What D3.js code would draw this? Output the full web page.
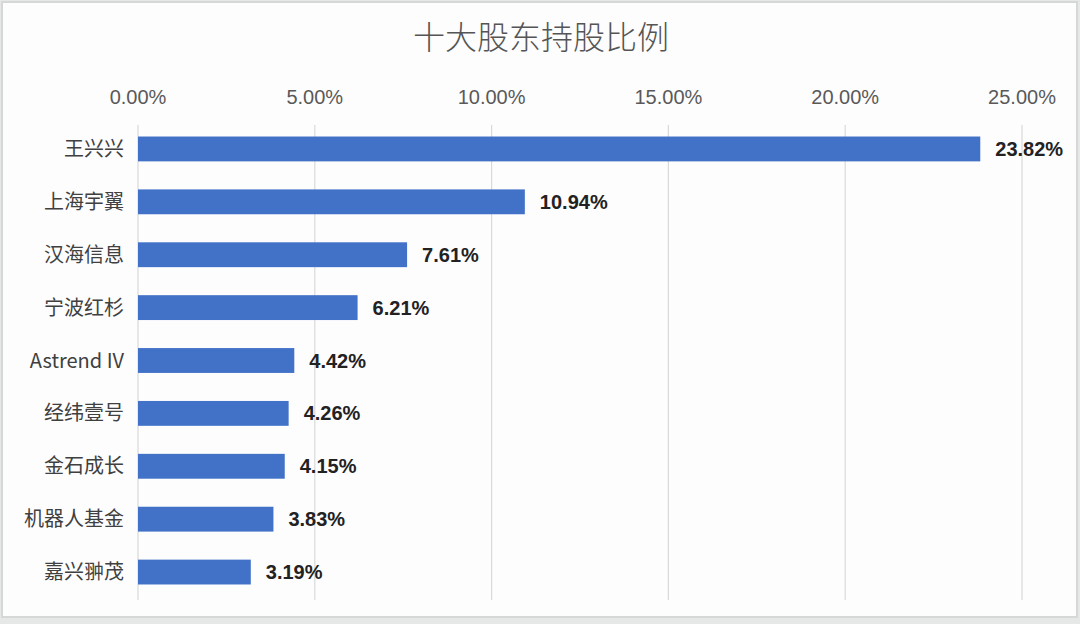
<!DOCTYPE html>
<html>
<head>
<meta charset="utf-8">
<script src="https://cdn.jsdelivr.net/npm/d3@7"></script>
<style>
  html, body { margin: 0; padding: 0; background: #e6e8e8; }
  #chart { width: 1080px; height: 624px; }
</style>
</head>
<body>
<div id="chart"></div>
<script>
// top ten shareholders, share of holding (%)
const holders = ["王兴兴", "上海宇翼", "汉海信息", "宁波红杉", "Astrend IV", "经纬壹号", "金石成长", "机器人基金", "嘉兴翀茂"];
const shares = [23.82, 10.94, 7.61, 6.21, 4.42, 4.26, 4.15, 3.83, 3.19];
const xTicks = [0, 5, 10, 15, 20, 25];

const W = 1080, H = 624;
const svg = d3.select("#chart").append("svg").attr("width", W).attr("height", H);

// card with thin grey frame
svg.append("rect").attr("x", 2).attr("y", 2).attr("width", W - 5).attr("height", H - 9)
  .attr("fill", "#fdfdfe").attr("stroke", "#d6d8d8").attr("stroke-width", 2);

svg.append("text").attr("x", 541).attr("y", 49).attr("text-anchor", "middle")
  .attr("font-family", "'Noto Sans CJK SC', sans-serif").attr("font-weight", 300)
  .attr("font-size", 32).attr("fill", "#555").text("十大股东持股比例");

const x = d3.scaleLinear().domain([0, 25]).range([138, 1022]);
const y = d3.scaleBand().domain(holders).range([122.5, 598.5]).paddingInner(0.53).paddingOuter(0.265);

// vertical gridlines
svg.append("g").selectAll("line").data(xTicks).enter().append("line")
  .attr("x1", d => x(d)).attr("x2", d => x(d)).attr("y1", 125).attr("y2", 600)
  .attr("stroke", "#d9d9d9").attr("stroke-width", 1.2);

// top tick labels
svg.append("g").selectAll("text").data(xTicks).enter().append("text")
  .attr("x", d => x(d)).attr("y", 104).attr("text-anchor", "middle")
  .attr("font-family", "'Liberation Sans', Arial, sans-serif").attr("font-size", 20)
  .attr("fill", "#595959").text(d => d3.format(".2f")(d) + "%");

// bars
svg.append("g").selectAll("rect").data(holders).enter().append("rect")
  .attr("x", x(0)).attr("y", d => y(d))
  .attr("width", (d, i) => x(shares[i]) - x(0)).attr("height", y.bandwidth())
  .attr("fill", "#4271c8");

// category labels
svg.append("g").selectAll("text").data(holders).enter().append("text")
  .attr("x", 124).attr("y", d => y(d) + y.bandwidth() / 2 + 7).attr("text-anchor", "end")
  .attr("font-family", "'Noto Sans CJK SC', 'Liberation Sans', sans-serif").attr("font-size", 20)
  .attr("fill", "#404040").text(d => d);

// value labels
svg.append("g").selectAll("text").data(holders).enter().append("text")
  .attr("x", (d, i) => x(shares[i]) + 15).attr("y", d => y(d) + y.bandwidth() / 2 + 7)
  .attr("font-family", "'Liberation Sans', Arial, sans-serif").attr("font-size", 20)
  .attr("font-weight", "bold").attr("fill", "#222")
  .text((d, i) => d3.format(".2f")(shares[i]) + "%");
</script>
</body>
</html>
